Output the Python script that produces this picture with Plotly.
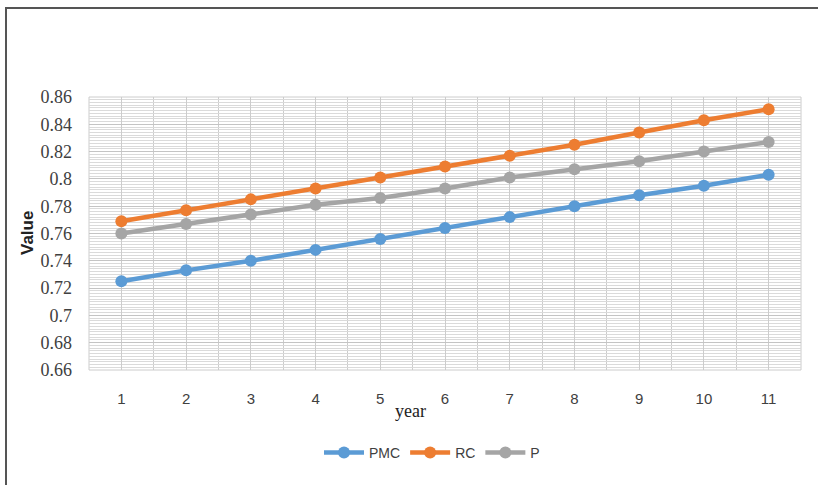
import plotly.graph_objects as go

years = list(range(1, 12))
pmc = [0.725, 0.733, 0.740, 0.748, 0.756, 0.764, 0.772, 0.780, 0.788, 0.795, 0.803]
rc = [0.769, 0.777, 0.785, 0.793, 0.801, 0.809, 0.817, 0.825, 0.834, 0.843, 0.851]
p = [0.760, 0.767, 0.774, 0.781, 0.786, 0.793, 0.801, 0.807, 0.813, 0.820, 0.827]
y_ticks = [0.66, 0.68, 0.70, 0.72, 0.74, 0.76, 0.78, 0.80, 0.82, 0.84, 0.86]
y_tick_text = ["0.66", "0.68", "0.7", "0.72", "0.74", "0.76", "0.78", "0.8", "0.82", "0.84", "0.86"]

series = [("PMC", pmc, "#5B9BD5"), ("RC", rc, "#ED7D31"), ("P", p, "#A5A5A5")]

fig = go.Figure()
for name, vals, col in series:
    fig.add_trace(go.Scatter(
        x=years, y=vals, name=name, mode="lines+markers",
        line=dict(color=col, width=4.5),
        marker=dict(color=col, size=12),
    ))

L, R, T, B = 89, 17, 97, 115
W, H = 818, 485
pw, ph = W - L - R, H - T - B

def px(x):
    return (x - L) / pw

def py(y):
    return (H - B - y) / ph

fig.update_layout(
    width=W, height=H,
    margin=dict(l=L, r=R, t=T, b=B),
    paper_bgcolor="white", plot_bgcolor="white",
    showlegend=True,
    legend=dict(orientation="h", x=px(432), y=py(453), xanchor="center", yanchor="middle",
                font=dict(family="Liberation Sans Narrow, Liberation Sans", size=14, color="#404040"),
                itemwidth=40, tracegroupgap=0, bgcolor="rgba(0,0,0,0)"),
    xaxis=dict(range=[0.5, 11.5], tickvals=years, ticktext=[str(v) for v in years],
               showgrid=True, gridcolor="#cccccc", gridwidth=1,
               minor=dict(dtick=0.5, tick0=0.5, showgrid=True, gridcolor="#cccccc", gridwidth=1),
               zeroline=False, showline=False, ticks="",
               ticklabelstandoff=18,
               tickfont=dict(family="Liberation Sans", size=15, color="#404040")),
    yaxis=dict(range=[0.66, 0.86], tickvals=y_ticks, ticktext=y_tick_text,
               showgrid=True, gridcolor="#c4c4c4", gridwidth=1,
               minor=dict(dtick=0.002, tick0=0.66, showgrid=True, gridcolor="#dadada", gridwidth=1),
               zeroline=False, showline=False, ticks="",
               ticklabelstandoff=16,
               tickfont=dict(family="Liberation Serif", size=18, color="#404040")),
    annotations=[
        dict(text="year", x=px(410), y=py(411), xref="paper", yref="paper", showarrow=False,
             xanchor="center", yanchor="middle",
             font=dict(family="Liberation Serif", size=18, color="#222222")),
        dict(text="<b>Value</b>", x=px(27), y=py(233), xref="paper", yref="paper", showarrow=False,
             xanchor="center", yanchor="middle", textangle=-90,
             font=dict(family="Liberation Sans", size=17, color="#222222")),
    ],
    shapes=[
        dict(type="rect", xref="paper", yref="paper",
             x0=px(6), x1=px(830), y0=py(500), y1=py(8),
             line=dict(color="#555555", width=2), fillcolor="rgba(0,0,0,0)", layer="above"),
        dict(type="rect", xref="paper", yref="paper", x0=0, x1=1, y0=0, y1=1,
             line=dict(color="#cccccc", width=1), fillcolor="rgba(0,0,0,0)", layer="below"),
    ],
)

fig.write_html("out.html", config={"displayModeBar": False},
               post_script="document.body.style.margin='0';")
